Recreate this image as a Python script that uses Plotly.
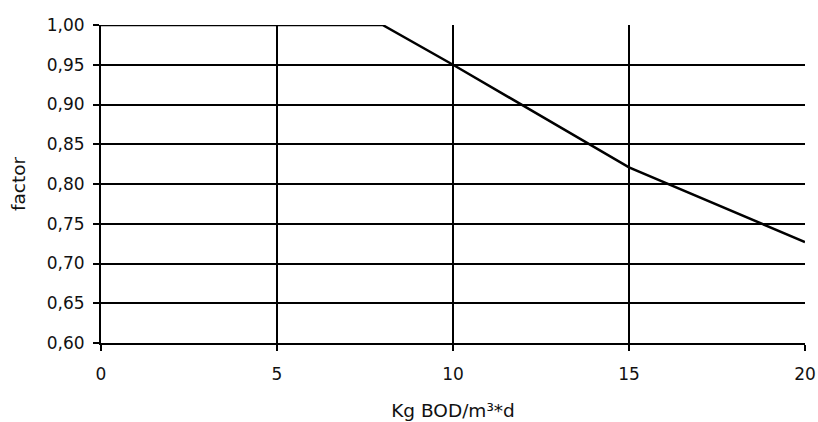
import plotly.graph_objects as go

x_vals = [0, 8, 10, 15, 20]
factor = [1.00, 1.00, 0.95, 0.821, 0.727]
x_ticks = [0, 5, 10, 15, 20]
y_ticks = [0.60, 0.65, 0.70, 0.75, 0.80, 0.85, 0.90, 0.95, 1.00]

fig = go.Figure()
fig.add_trace(go.Scatter(x=x_vals, y=factor, mode="lines",
                         line=dict(color="black", width=2.5), showlegend=False,
                         cliponaxis=False))

font = dict(family="DejaVu Sans, Arial, sans-serif", size=17, color="#111")
fig.update_layout(
    width=818, height=422,
    margin=dict(l=101, r=13, t=25, b=79, autoexpand=False),
    paper_bgcolor="white", plot_bgcolor="white",
    separators=",.",
    font=font,
)
fig.update_xaxes(range=[0, 20], tickvals=x_ticks, showgrid=True, gridcolor="black",
                 gridwidth=1.5, showline=True, linecolor="black", linewidth=2,
                 ticks="outside", ticklen=6, tickcolor="black", tickwidth=1.5,
                 ticklabelstandoff=9, ticklabeloverflow="allow",
                 zeroline=False, automargin=False,
                 title=dict(text="Kg BOD/m³*d", standoff=21, font=dict(size=18.5)),
                 fixedrange=True)
fig.update_yaxes(range=[0.60, 1.00], tickvals=y_ticks, tickformat=".2f", showgrid=True,
                 gridcolor="black", gridwidth=1.5, showline=True, linecolor="black",
                 linewidth=2, ticks="outside", ticklen=6, tickcolor="black", tickwidth=1.5,
                 ticklabelstandoff=5, ticklabeloverflow="allow",
                 zeroline=False, automargin=False,
                 title=dict(text="factor", standoff=16, font=dict(size=18.5)),
                 fixedrange=True)

# remove the default page margin so the 818x422 figure fills the window exactly
fig.write_html("out.html", config={"displayModeBar": False},
               post_script="document.body.style.margin='0';document.body.style.overflow='hidden';")
